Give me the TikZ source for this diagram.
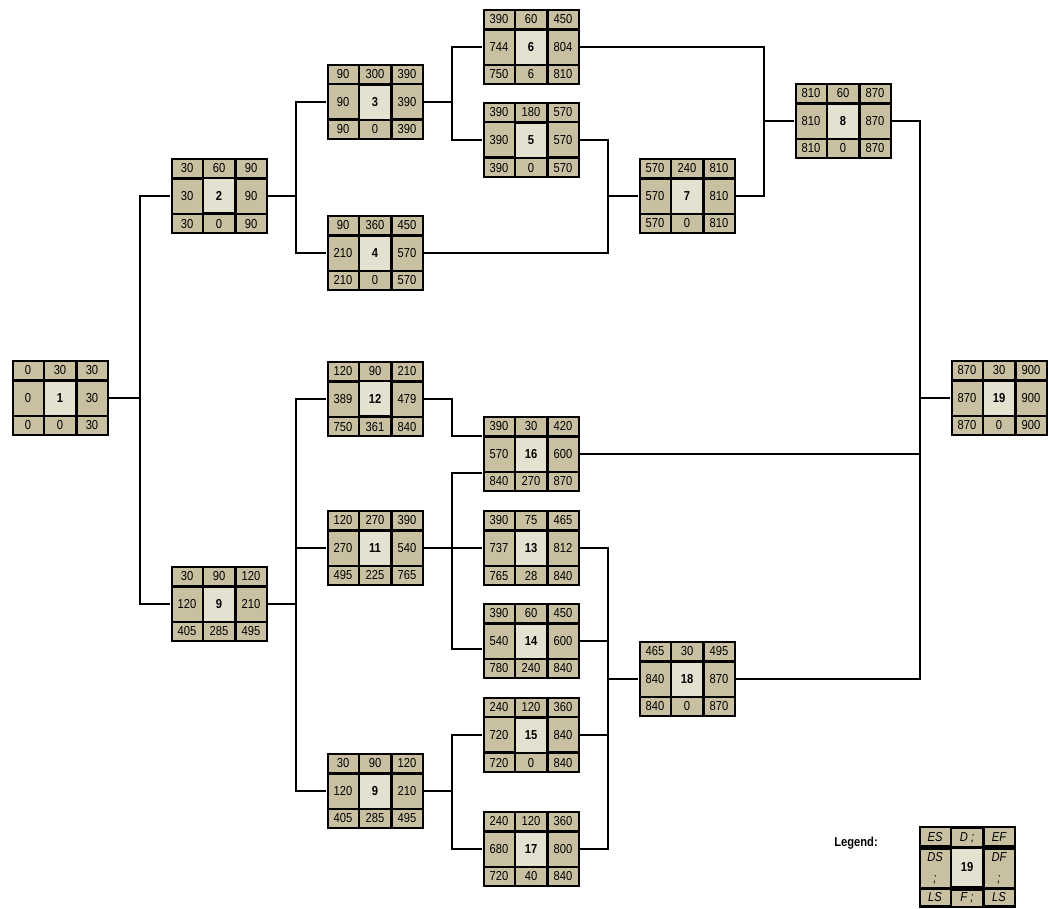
\documentclass[tikz,border=0pt]{standalone}
\usepackage{fontspec}
\setmainfont{Liberation Sans}[FakeStretch=0.86]
\usetikzlibrary{matrix, positioning}
\definecolor{pertTan}{RGB}{200,192,160}
\definecolor{pertCore}{RGB}{229,225,209}

\begin{document}
\begin{tikzpicture}[
    x=1pt, y=-1pt,
    cell/.style={fill=pertTan, inner sep=0pt, minimum width=29pt, minimum height=17pt, font=\fontsize{13}{14}\selectfont},
    core/.style={fill=pertCore, font=\fontsize{13}{14}\selectfont\bfseries},
    pert/.style={matrix of nodes, fill=black, inner sep=2pt, column sep=2.5pt, row sep=2.5pt, nodes={cell},
        row 2/.style={nodes={minimum height=33pt}},
        column 2/.style={nodes={minimum width=30pt}},
        row 2 column 2/.style={nodes={core}}},
    % Legend box - italic field names
    legendbox/.style={pert, nodes={font=\fontsize{13}{14}\selectfont\itshape},
        row 2/.style={nodes={minimum height=37pt}},
        row 3/.style={nodes={minimum height=15pt}}},
    link/.style={draw=black, line width=1.8pt}
]
    \useasboundingbox (0,0) rectangle (1048,908);

    % --- Activities ---
    \matrix[pert] (n1) at (60,398) {0 & 30 & 30\\ 0 & 1 & 30\\ 0 & 0 & 30\\};

    \matrix[pert] (n2) at (219,196) {30 & 60 & 90\\ 30 & 2 & 90\\ 30 & 0 & 90\\};
    \matrix[pert] (n9a) at (219,604) {30 & 90 & 120\\ 120 & 9 & 210\\ 405 & 285 & 495\\};

    \matrix[pert] (n3) at (375,102) {90 & 300 & 390\\ 90 & 3 & 390\\ 90 & 0 & 390\\};
    \matrix[pert] (n4) at (375,253) {90 & 360 & 450\\ 210 & 4 & 570\\ 210 & 0 & 570\\};
    \matrix[pert] (n12) at (375,399) {120 & 90 & 210\\ 389 & 12 & 479\\ 750 & 361 & 840\\};
    \matrix[pert] (n11) at (375,548) {120 & 270 & 390\\ 270 & 11 & 540\\ 495 & 225 & 765\\};
    \matrix[pert] (n9b) at (375,791) {30 & 90 & 120\\ 120 & 9 & 210\\ 405 & 285 & 495\\};

    \matrix[pert] (n6) at (531,47) {390 & 60 & 450\\ 744 & 6 & 804\\ 750 & 6 & 810\\};
    \matrix[pert] (n5) at (531,140) {390 & 180 & 570\\ 390 & 5 & 570\\ 390 & 0 & 570\\};
    \matrix[pert] (n16) at (531,454) {390 & 30 & 420\\ 570 & 16 & 600\\ 840 & 270 & 870\\};
    \matrix[pert] (n13) at (531,548) {390 & 75 & 465\\ 737 & 13 & 812\\ 765 & 28 & 840\\};
    \matrix[pert] (n14) at (531,641) {390 & 60 & 450\\ 540 & 14 & 600\\ 780 & 240 & 840\\};
    \matrix[pert] (n15) at (531,735) {240 & 120 & 360\\ 720 & 15 & 840\\ 720 & 0 & 840\\};
    \matrix[pert] (n17) at (531,849) {240 & 120 & 360\\ 680 & 17 & 800\\ 720 & 40 & 840\\};

    \matrix[pert] (n7) at (687,196) {570 & 240 & 810\\ 570 & 7 & 810\\ 570 & 0 & 810\\};
    \matrix[pert] (n18) at (687,679) {465 & 30 & 495\\ 840 & 18 & 870\\ 840 & 0 & 870\\};

    \matrix[pert] (n8) at (843,121) {810 & 60 & 870\\ 810 & 8 & 870\\ 810 & 0 & 870\\};
    \matrix[pert] (n19) at (999,398) {870 & 30 & 900\\ 870 & 19 & 900\\ 870 & 0 & 900\\};

    % --- Legend ---
    \node[font=\fontsize{13}{14}\selectfont\bfseries] (legendtitle) at (856,843) {Legend:};
    \matrix[legendbox] (legend) at (967,867) {ES & D ; & EF\\
        {\begin{tabular}{@{}c@{}}DS\\[7pt];\end{tabular}} & 19 & {\begin{tabular}{@{}c@{}}DF\\[7pt];\end{tabular}}\\
        LS & F ; & LS\\};

    % --- Connections ---
    \draw[link] (n1.east) -| ([xshift=-30pt]n2.west) -- (n2.west);
    \draw[link] (n1.east) -| ([xshift=-30pt]n9a.west) -- (n9a.west);

    \draw[link] (n2.east) -| ([xshift=-30pt]n3.west) -- (n3.west);
    \draw[link] (n2.east) -| ([xshift=-30pt]n4.west) -- (n4.west);

    \draw[link] (n9a.east) -| ([xshift=-30pt]n12.west) -- (n12.west);
    \draw[link] (n9a.east) -| ([xshift=-30pt]n11.west) -- (n11.west);
    \draw[link] (n9a.east) -| ([xshift=-30pt]n9b.west) -- (n9b.west);

    \draw[link] (n3.east) -| ([xshift=-30pt]n6.west) -- (n6.west);
    \draw[link] (n3.east) -| ([xshift=-30pt]n5.west) -- (n5.west);

    \draw[link] (n12.east) -| ([xshift=-30pt,yshift=18pt]n16.west) -- ([yshift=18pt]n16.west);
    \draw[link] (n11.east) -| ([xshift=-30pt,yshift=-19pt]n16.west) -- ([yshift=-19pt]n16.west);
    \draw[link] (n11.east) -- (n13.west);
    \draw[link] (n11.east) -| ([xshift=-30pt,yshift=-8pt]n14.west) -- ([yshift=-8pt]n14.west);

    \draw[link] (n9b.east) -| ([xshift=-30pt]n15.west) -- (n15.west);
    \draw[link] (n9b.east) -| ([xshift=-30pt]n17.west) -- (n17.west);

    \draw[link] (n5.east) -| ([xshift=-30pt]n7.west) -- (n7.west);
    \draw[link] (n4.east) -| ([xshift=-30pt]n7.west) -- (n7.west);

    \draw[link] (n6.east) -| ([xshift=-30pt]n8.west) -- (n8.west);
    \draw[link] (n7.east) -| ([xshift=-30pt]n8.west) -- (n8.west);

    \draw[link] (n13.east) -| ([xshift=-30pt]n18.west) -- (n18.west);
    \draw[link] (n14.east) -| ([xshift=-30pt]n18.west) -- (n18.west);
    \draw[link] (n15.east) -| ([xshift=-30pt]n18.west) -- (n18.west);
    \draw[link] (n17.east) -| ([xshift=-30pt]n18.west) -- (n18.west);

    \draw[link] (n8.east) -| ([xshift=-30pt]n19.west) -- (n19.west);
    \draw[link] (n16.east) -| ([xshift=-30pt]n19.west) -- (n19.west);
    \draw[link] (n18.east) -| ([xshift=-30pt]n19.west) -- (n19.west);

\end{tikzpicture}
\end{document}
